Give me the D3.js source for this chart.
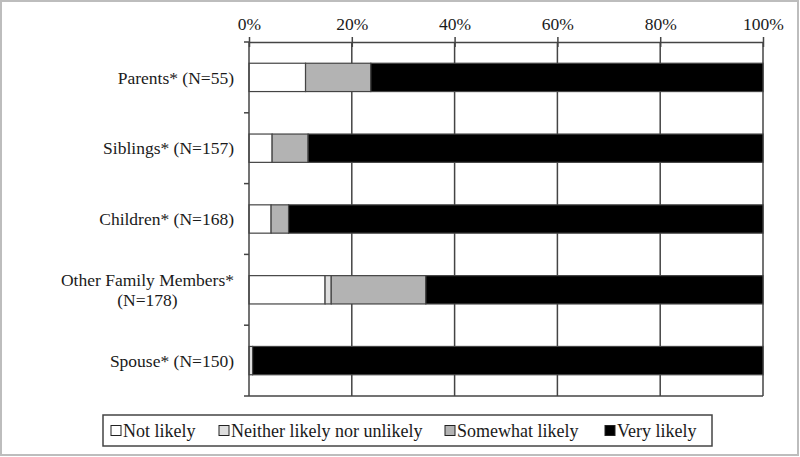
<!DOCTYPE html>
<html>
<head>
<meta charset="utf-8">
<script src="https://cdn.jsdelivr.net/npm/d3@7"></script>
<style>
  html, body { margin: 0; padding: 0; background: #fff; }
  svg { display: block; font-family: "Liberation Serif", "Times New Roman", serif; }
</style>
</head>
<body>
<svg id="chart" width="800" height="457"></svg>
<script>
// categories, top to bottom; "\n" splits a label onto two lines
const categories = [
  "Parents* (N=55)",
  "Siblings* (N=157)",
  "Children* (N=168)",
  "Other Family Members*\n(N=178)",
  "Spouse* (N=150)",
];
const seriesNames = ["Not likely", "Neither likely nor unlikely", "Somewhat likely", "Very likely"];
// percentages per category
const notLikely = [11.0, 4.5, 4.3, 14.8, 0.0];
const neither = [0.0, 0.0, 0.0, 1.2, 0.7];
const somewhat = [12.7, 7.0, 3.4, 18.4, 0.0];
const veryLikely = [76.3, 88.5, 92.3, 65.6, 99.3];
const xTicks = [0, 20, 40, 60, 80, 100];

const width = 800, height = 457;
const margin = { top: 42, right: 37, bottom: 61, left: 249 };
const colors = ["#ffffff", "#dedede", "#b3b3b3", "#000000"];
const lineColor = "#444";
const textColor = "#1a1a1a";

const svg = d3.select("#chart");

// frame around the whole figure
svg.append("rect")
  .attr("x", 1).attr("y", 1)
  .attr("width", width - 3).attr("height", height - 3)
  .attr("fill", "none")
  .attr("stroke", "#bdbdbd")
  .attr("stroke-width", 2);

const rows = categories.map((c, i) => ({
  cat: c,
  "Not likely": notLikely[i],
  "Neither likely nor unlikely": neither[i],
  "Somewhat likely": somewhat[i],
  "Very likely": veryLikely[i],
}));

const x = d3.scaleLinear().domain([0, 100]).range([margin.left, width - margin.right]);
const y = d3.scaleBand()
  .domain(categories)
  .range([margin.top, height - margin.bottom])
  .paddingInner(0.6)
  .paddingOuter(0.3);
const z = d3.scaleOrdinal().domain(seriesNames).range(colors);

const step = y.step();
const bandTop = d => y(d) - y.paddingOuter() * step;

// vertical gridlines
svg.append("g")
  .selectAll("line")
  .data(xTicks.slice(1))
  .enter()
  .append("line")
  .attr("x1", d => x(d)).attr("x2", d => x(d))
  .attr("y1", margin.top).attr("y2", height - margin.bottom)
  .attr("stroke", lineColor)
  .attr("stroke-width", 1.5);

// bottom line of the plot area
svg.append("line")
  .attr("x1", x(0)).attr("x2", x(100))
  .attr("y1", height - margin.bottom).attr("y2", height - margin.bottom)
  .attr("stroke", lineColor)
  .attr("stroke-width", 1.5);

// stacked bars
svg.append("g")
  .selectAll("g")
  .data(d3.stack().keys(seriesNames)(rows))
  .enter()
  .append("g")
  .attr("fill", d => z(d.key))
  .selectAll("rect")
  .data(d => d)
  .enter()
  .append("rect")
  .attr("x", d => x(d[0]))
  .attr("width", d => x(d[1]) - x(d[0]))
  .attr("y", d => y(d.data.cat))
  .attr("height", y.bandwidth())
  .attr("stroke", lineColor)
  .attr("stroke-width", 1.2);

// top axis
const xAxis = svg.append("g")
  .attr("transform", `translate(0,${margin.top})`)
  .call(d3.axisTop(x).tickValues(xTicks).tickFormat(d => d + "%").tickSizeInner(5).tickSizeOuter(0).tickPadding(7));
xAxis.select(".domain").attr("stroke", lineColor).attr("stroke-width", 1.5);
xAxis.selectAll(".tick line")
  .attr("stroke", lineColor)
  .attr("stroke-width", 1.5)
  .attr("y2", -5)
  .attr("y1", 5);
xAxis.selectAll(".tick text")
  .attr("fill", textColor)
  .style("font-size", "17.5px")
  .style("font-family", "'Liberation Serif', serif");

// left axis line with ticks at band boundaries
const boundaries = categories.map(bandTop).concat([height - margin.bottom]);
svg.append("line")
  .attr("x1", x(0)).attr("x2", x(0))
  .attr("y1", margin.top).attr("y2", height - margin.bottom)
  .attr("stroke", lineColor)
  .attr("stroke-width", 1.5);
svg.append("g")
  .selectAll("line")
  .data(boundaries)
  .enter()
  .append("line")
  .attr("x1", x(0) - 5).attr("x2", x(0))
  .attr("y1", d => d).attr("y2", d => d)
  .attr("stroke", lineColor)
  .attr("stroke-width", 1.5);

// category labels, right edge 15px left of the axis, multi-line centred on each other
const labelRight = x(0) - 15;
categories.forEach(c => {
  const lines = c.split("\n");
  const cy = y(c) + y.bandwidth() / 2;
  const t = svg.append("text")
    .attr("fill", textColor)
    .style("font-size", "17.5px");
  lines.forEach((ln, i) => {
    t.append("tspan")
      .attr("y", cy + (i - (lines.length - 1) / 2) * 20)
      .attr("dy", "0.35em")
      .text(ln);
  });
  const spans = t.selectAll("tspan").nodes();
  const maxW = d3.max(spans, n => n.getComputedTextLength());
  t.attr("text-anchor", "middle");
  spans.forEach(n => d3.select(n).attr("x", labelRight - maxW / 2));
});

// legend
const legendBox = { x: 103, y: 415, w: 609, h: 31 };
svg.append("rect")
  .attr("x", legendBox.x).attr("y", legendBox.y)
  .attr("width", legendBox.w).attr("height", legendBox.h)
  .attr("fill", "#fff")
  .attr("stroke", lineColor)
  .attr("stroke-width", 1.5);
const legendX = [111, 219, 445, 605];
const legend = svg.append("g")
  .selectAll("g")
  .data(seriesNames)
  .enter()
  .append("g")
  .attr("transform", (d, i) => `translate(${legendX[i]},${legendBox.y + legendBox.h / 2})`);
legend.append("rect")
  .attr("x", 0).attr("y", -5)
  .attr("width", 10).attr("height", 10)
  .attr("fill", z)
  .attr("stroke", "#222")
  .attr("stroke-width", 1);
legend.append("text")
  .attr("x", 12)
  .attr("dy", "0.35em")
  .attr("fill", textColor)
  .style("font-size", "18px")
  .text(d => d);
</script>
</body>
</html>
